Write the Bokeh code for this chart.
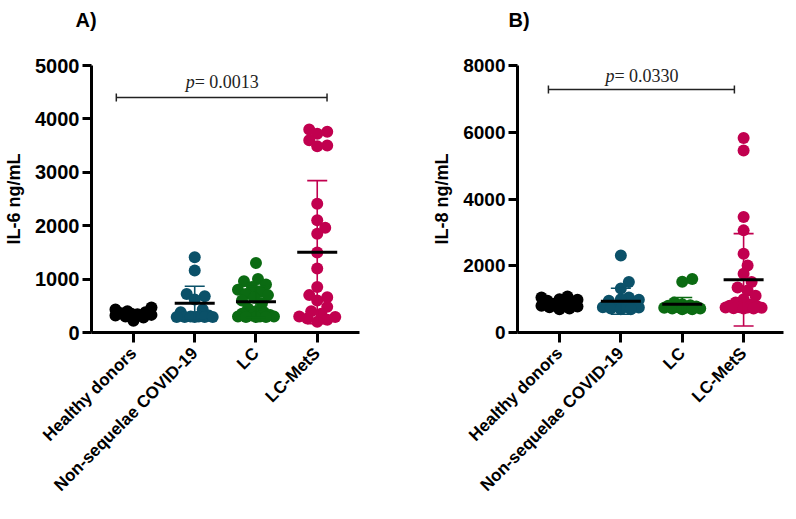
import math
from bokeh.plotting import figure
from bokeh.layouts import row
from bokeh.models import Range1d, FixedTicker, Title
from bokeh.embed import file_html
from bokeh.resources import INLINE
from bokeh.core.properties import value

# ---------------- data ----------------
groups = ["Healthy donors", "Non-sequelae COVID-19", "LC", "LC-MetS"]
colors = ["#000000", "#0b5169", "#0b6b12", "#c1004f"]

il6_healthy = [470, 430, 400, 380, 360, 350, 340, 330, 320, 300, 280, 220]
il6_nonseq = [1410, 1160, 720, 680, 620, 430, 380, 320, 300, 290, 290, 290, 290, 290, 300]
il6_lc = [1300, 1000, 960, 900, 850, 800, 760, 720, 700, 650, 600, 550, 450, 400,
          380, 350, 330, 320, 300, 300, 300, 290, 290, 290]
il6_lcmets = [3800, 3760, 3720, 3600, 3500, 3490, 2410, 2100, 1960, 1850, 1500, 1200,
              850, 700, 660, 600, 480, 400, 350, 300, 290, 260, 240, 200]
il6_means = [340, 549, 574, 1504]
il6_sds = [70, 318, 290, 1340]

il8_healthy = [1080, 1050, 1000, 980, 950, 900, 850, 820, 800, 780, 760, 720, 700]
il8_nonseq = [2310, 1510, 1320, 1050, 1000, 980, 950, 850, 800, 780, 760, 750, 720, 700, 700]
il8_lc = [1600, 1520, 900, 850, 820, 800, 780, 760, 750, 740, 720, 720, 700, 700]
il8_lcmets = [5830, 5450, 3460, 3060, 2360, 2010, 1760, 1510, 1350, 1260, 1100, 1000,
              900, 850, 800, 780, 760, 750, 750, 740, 730, 720, 720]
il8_means = [880, 938, 850, 1578]
il8_sds = [130, 390, 200, 1385]

il6_ticks = [0, 1000, 2000, 3000, 4000, 5000]
il8_ticks = [0, 2000, 4000, 6000, 8000]

AX_FONT = "Liberation Sans"
SERIF = "Liberation Serif"


def swarm(vals, ppu_y, ppu_x, d, maxw=18.0, step=2.0):
    order = sorted(range(len(vals)), key=lambda i: vals[i])
    placed = []
    xs = [0.0] * len(vals)
    cands = [0.0]
    k = 1
    while k * step <= maxw:
        cands += [k * step, -k * step]
        k += 1
    for i in order:
        y = vals[i] * ppu_y
        best, best_score = 0.0, -1.0
        chosen = None
        for c in cands:
            md = min([math.hypot(c - px, y - py) for px, py in placed] or [1e9])
            if md >= d * 0.75:
                chosen = c
                break
            if md > best_score:
                best, best_score = c, md
        if chosen is None:
            chosen = best
        placed.append((chosen, y))
        xs[i] = chosen / ppu_x
    return xs


def panel(tag, ylabel, data, means, sds, ticks, pval, br_x0, br_x1, br_y, txt_y,
          x_start, x_end, fw, fh, left, right, tag_dx, ytick_size):
    ymax = ticks[-1]
    p = figure(frame_width=fw, frame_height=fh, min_border_left=left, min_border_right=right,
               min_border_top=65, min_border_bottom=171, output_backend="svg",
               toolbar_location=None, x_range=Range1d(x_start, x_end),
               y_range=Range1d(0, ymax), title=tag)
    # spacer between the frame and the panel tag
    p.add_layout(Title(text=" ", text_font_size="20px", standoff=6), "above")
    p.title.align = "left"
    p.title.offset = tag_dx
    p.title.standoff = 9
    p.title.text_font = AX_FONT
    p.title.text_font_style = "bold"
    p.title.text_font_size = "20px"
    p.title.text_color = "black"
    p.outline_line_color = None
    p.grid.visible = False
    p.background_fill_color = "white"
    p.border_fill_color = "white"

    ppu_y = fh / ymax
    ppu_x = fw / (x_end - x_start)
    d = 12
    for gi, vals in enumerate(data):
        offs = swarm(vals, ppu_y, ppu_x, d)
        p.scatter([gi + o for o in offs], vals, size=d, color=colors[gi], line_color=None)
    # error bars (mean +- SD) and mean line
    cap = 10 / ppu_x
    half = 20 / ppu_x
    for gi in range(len(data)):
        m, s = means[gi], sds[gi]
        p.segment(x0=[gi], y0=[m - s], x1=[gi], y1=[m + s], line_color=colors[gi], line_width=1.6)
        p.segment(x0=[gi - cap, gi - cap], y0=[m - s, m + s], x1=[gi + cap, gi + cap],
                  y1=[m - s, m + s], line_color=colors[gi], line_width=1.6)
        p.segment(x0=[gi - half], y0=[m], x1=[gi + half], y1=[m], line_color="black", line_width=3)

    # significance bracket
    tip = 4 / ppu_y
    p.segment(x0=[br_x0], y0=[br_y], x1=[br_x1], y1=[br_y], line_color="#222222", line_width=1.5)
    p.segment(x0=[br_x0, br_x1], y0=[br_y - tip, br_y - tip], x1=[br_x0, br_x1],
              y1=[br_y + tip, br_y + tip], line_color="#222222", line_width=1.5)
    cx = (br_x0 + br_x1) / 2
    p.text(x=[cx], y=[txt_y], text=["p"], text_font=value(SERIF), text_font_style="italic",
           text_font_size="18px", text_align="right", text_baseline="alphabetic",
           x_offset=-27, text_color="#222222")
    p.text(x=[cx], y=[txt_y], text=["= " + pval], text_font=value(SERIF),
           text_font_size="18px", text_align="left", text_baseline="alphabetic",
           x_offset=-27, text_color="#222222")

    # axes
    p.xaxis.ticker = FixedTicker(ticks=list(range(len(groups))))
    p.xaxis.major_label_overrides = {i: g for i, g in enumerate(groups)}
    p.xaxis.major_label_orientation = math.pi / 4
    p.yaxis.ticker = FixedTicker(ticks=ticks)
    p.yaxis.axis_label = ylabel
    for ax in (p.xaxis, p.yaxis):
        ax.axis_line_width = 3
        ax.axis_line_color = "black"
        ax.major_tick_line_width = 3
        ax.major_tick_line_color = "black"
        ax.major_tick_in = 0
        ax.minor_tick_line_color = None
        ax.major_label_text_font = AX_FONT
        ax.major_label_text_font_style = "bold"
        ax.major_label_text_color = "black"
    p.xaxis.major_tick_out = 10
    p.yaxis.major_tick_out = 9
    p.xaxis.major_label_text_font_size = "17px"
    p.yaxis.major_label_text_font_size = ytick_size
    p.yaxis.major_label_standoff = 3
    p.xaxis.major_label_standoff = 8
    p.yaxis.axis_label_text_font = AX_FONT
    p.yaxis.axis_label_text_font_style = "bold"
    p.yaxis.axis_label_text_font_size = "18px"
    p.yaxis.axis_label_text_color = "black"
    p.yaxis.axis_label_standoff = 8
    return p


pa = panel("A)", "IL-6 ng/mL", [il6_healthy, il6_nonseq, il6_lc, il6_lcmets], il6_means, il6_sds,
           il6_ticks, "0.0013", -0.28, 3.16, 4400, 4700, -0.685, 3.69, 268, 267, 91, 41, -16, "20px")
pb = panel("B)", "IL-8 ng/mL", [il8_healthy, il8_nonseq, il8_lc, il8_lcmets], il8_means, il8_sds,
           il8_ticks, "0.0330", -0.18, 2.85, 7280, 7680, -0.684, 3.65, 266, 267, 117, 5, -9, "19px")

layout = row(pa, pb)
open("out.html", "w").write(file_html(layout, INLINE))
